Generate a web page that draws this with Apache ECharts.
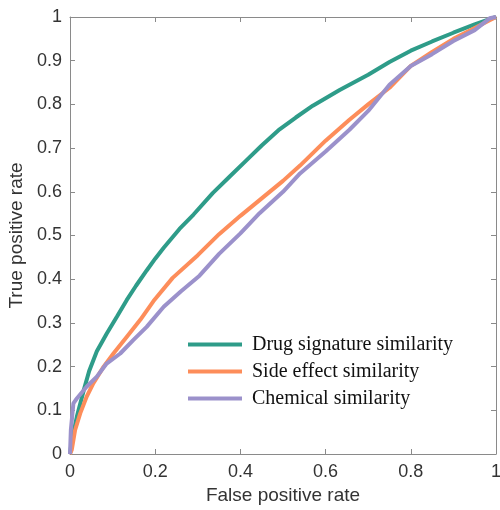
<!DOCTYPE html>
<html>
<head>
<meta charset="utf-8">
<script src="https://cdn.jsdelivr.net/npm/echarts@6/dist/echarts.min.js"></script>
<style>
  html, body { margin: 0; padding: 0; background: #fff; }
  #chart { width: 500px; height: 510px; }
</style>
</head>
<body>
<div id="chart"></div>
<script>
// ROC curves, values (FPR, TPR pairs)
const seriesNames = ["Drug signature similarity", "Side effect similarity", "Chemical similarity"];

const drugFpr = [0, 0.004, 0.016, 0.032, 0.045, 0.063, 0.086, 0.11, 0.133, 0.155, 0.18, 0.2, 0.22, 0.257, 0.29, 0.335, 0.375, 0.414, 0.45, 0.492, 0.53, 0.57, 0.633, 0.7, 0.75, 0.8, 0.85, 0.9, 0.95, 1];
const drugTpr = [0, 0.03, 0.085, 0.145, 0.19, 0.235, 0.275, 0.314, 0.352, 0.385, 0.42, 0.447, 0.472, 0.515, 0.548, 0.597, 0.635, 0.672, 0.706, 0.743, 0.77, 0.797, 0.833, 0.868, 0.897, 0.923, 0.944, 0.964, 0.983, 1];

const sideFpr = [0, 0.004, 0.012, 0.024, 0.039, 0.055, 0.079, 0.102, 0.133, 0.165, 0.196, 0.241, 0.3, 0.35, 0.4, 0.45, 0.5, 0.54, 0.6, 0.656, 0.7, 0.75, 0.8, 0.85, 0.9, 0.95, 1];
const sideTpr = [0, 0.009, 0.055, 0.093, 0.131, 0.162, 0.2, 0.23, 0.268, 0.307, 0.35, 0.403, 0.455, 0.503, 0.545, 0.585, 0.625, 0.66, 0.717, 0.765, 0.8, 0.838, 0.888, 0.92, 0.95, 0.975, 1];

const chemFpr = [0, 0.002, 0.008, 0.016, 0.039, 0.063, 0.086, 0.118, 0.149, 0.18, 0.22, 0.26, 0.304, 0.35, 0.4, 0.445, 0.5, 0.54, 0.6, 0.656, 0.7, 0.75, 0.8, 0.85, 0.9, 0.95, 0.985, 1];
const chemTpr = [0, 0.055, 0.116, 0.127, 0.154, 0.177, 0.207, 0.23, 0.261, 0.291, 0.337, 0.372, 0.408, 0.458, 0.505, 0.551, 0.6, 0.642, 0.692, 0.742, 0.785, 0.845, 0.888, 0.915, 0.945, 0.97, 0.997, 1];

const xTicks = [0, 0.2, 0.4, 0.6, 0.8, 1];
const yTicks = [0, 0.1, 0.2, 0.3, 0.4, 0.5, 0.6, 0.7, 0.8, 0.9, 1];

const colors = ["#2e9c89", "#fd8d5a", "#9b91cb"];

function pairs(xs, ys) {
  return xs.map((x, i) => [x, ys[i]]);
}

const chart = echarts.init(document.getElementById("chart"), null, { renderer: "canvas" });

const AXIS_COLOR = "#8a8a8a";
const LABEL = { fontFamily: "Liberation Sans, Arial, sans-serif", fontSize: 18, color: "#333" };

// shared look for the box axes
function boxAxis(extra) {
  return Object.assign({
    type: "value",
    min: 0,
    max: 1,
    axisLine: { show: true, onZero: false, lineStyle: { color: AXIS_COLOR, width: 1 } },
    axisTick: { show: true, inside: true, length: 5, lineStyle: { color: AXIS_COLOR } },
    splitLine: { show: false }
  }, extra);
}

const option = {
  animation: false,
  backgroundColor: "#fff",
  color: colors,
  grid: { left: 70, top: 17, width: 426, height: 437, containLabel: false, outerBoundsMode: "none" },

  xAxis: [
    boxAxis({
      position: "bottom",
      interval: xTicks[1] - xTicks[0],
      name: "False positive rate",
      nameLocation: "middle",
      nameGap: 31,
      nameTextStyle: { fontFamily: LABEL.fontFamily, fontSize: 19, color: "#333" },
      axisLabel: Object.assign({ margin: 9, formatter: v => String(+v.toFixed(1)) }, LABEL)
    }),
    boxAxis({
      position: "top",
      interval: xTicks[1] - xTicks[0],
      axisLabel: { show: false }
    })
  ],

  yAxis: [
    boxAxis({
      position: "left",
      interval: yTicks[1] - yTicks[0],
      name: "True positive rate",
      nameLocation: "middle",
      nameGap: 42,
      nameTextStyle: { fontFamily: LABEL.fontFamily, fontSize: 19, color: "#333" },
      axisLabel: Object.assign({ margin: 8, formatter: v => String(+v.toFixed(1)) }, LABEL)
    }),
    boxAxis({
      position: "right",
      interval: yTicks[1] - yTicks[0],
      axisLabel: { show: false }
    })
  ],

  legend: {
    orient: "vertical",
    left: 183,
    top: 329,
    icon: "rect",
    itemWidth: 54,
    itemHeight: 4,
    itemGap: 6,
    textStyle: {
      fontFamily: "Liberation Serif, Times New Roman, serif",
      fontSize: 20,
      lineHeight: 21,
      color: "#111",
      padding: [0, 0, 0, 5]
    },
    data: seriesNames
  },

  series: [
    { name: seriesNames[0], data: pairs(drugFpr, drugTpr) },
    { name: seriesNames[1], data: pairs(sideFpr, sideTpr) },
    { name: seriesNames[2], data: pairs(chemFpr, chemTpr) }
  ].map(s => Object.assign({
    type: "line",
    showSymbol: false,
    lineStyle: { width: 4 },
    emphasis: { disabled: true }
  }, s))
};

chart.setOption(option);
</script>
</body>
</html>
